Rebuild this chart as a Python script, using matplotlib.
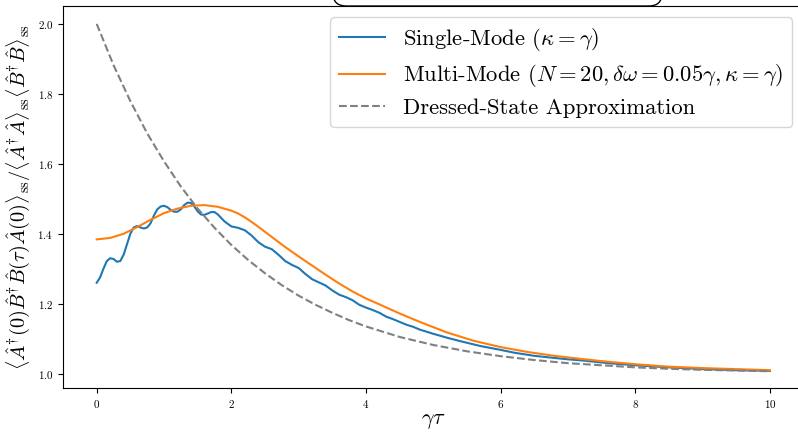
import matplotlib
matplotlib.use('Agg')
import matplotlib.pyplot as plt
from matplotlib.patches import FancyBboxPatch

plt.rcParams.update({
    'font.family': 'serif',
    'font.serif': ['cmr10'],
    'mathtext.fontset': 'cm',
    'axes.unicode_minus': False,
    'axes.formatter.use_mathtext': True,
})

# Single-mode correlation
tau_single = [0.0, 0.05, 0.1, 0.15, 0.2, 0.25, 0.3, 0.35, 0.4, 0.45, 0.5, 0.55, 0.6, 0.65,
              0.7, 0.75, 0.8, 0.85, 0.9, 0.95, 1.0, 1.05, 1.1, 1.15, 1.2, 1.25, 1.3, 1.35,
              1.4, 1.45, 1.5, 1.55, 1.6, 1.65, 1.7, 1.75, 1.8, 1.9, 2.0, 2.1, 2.2, 2.3,
              2.4, 2.5, 2.6, 2.7, 2.8, 2.9, 3.0, 3.1, 3.2, 3.3, 3.4, 3.5, 3.6, 3.7, 3.8,
              3.9, 4.0, 4.1, 4.2, 4.3, 4.4, 4.5, 4.6, 4.7, 4.8, 5.0, 5.2, 5.4, 5.7, 6.0,
              6.2, 6.5, 6.8, 7.0, 7.2, 7.6, 8.0, 8.5, 9.0, 9.5, 10.0]
single = [1.260, 1.275, 1.300, 1.322, 1.330, 1.328, 1.320, 1.322, 1.340, 1.370, 1.400,
          1.418, 1.422, 1.418, 1.415, 1.418, 1.430, 1.452, 1.470, 1.478, 1.480, 1.476,
          1.468, 1.463, 1.463, 1.470, 1.482, 1.489, 1.488, 1.478, 1.464, 1.455, 1.454,
          1.458, 1.462, 1.462, 1.455, 1.435, 1.421, 1.417, 1.410, 1.395, 1.376, 1.363,
          1.356, 1.340, 1.322, 1.311, 1.302, 1.285, 1.270, 1.261, 1.252, 1.238, 1.226,
          1.219, 1.210, 1.197, 1.189, 1.182, 1.174, 1.163, 1.156, 1.148, 1.140, 1.134,
          1.126, 1.114, 1.103, 1.093, 1.079, 1.068, 1.060, 1.051, 1.045, 1.041, 1.038,
          1.030, 1.024, 1.018, 1.013, 1.010, 1.008]

# Multi-mode correlation
tau_multi = [0.0, 0.2, 0.4, 0.6, 0.8, 1.0, 1.2, 1.4, 1.6, 1.8, 2.0, 2.1, 2.2, 2.3, 2.4,
             2.6, 2.8, 3.0, 3.2, 3.4, 3.6, 3.8, 4.0, 4.2, 4.5, 4.8, 5.2, 5.6, 6.0, 6.4,
             6.8, 7.2, 7.6, 8.0, 8.5, 9.0, 9.5, 10.0]
multi = [1.384, 1.388, 1.400, 1.419, 1.440, 1.459, 1.472, 1.480, 1.482, 1.477, 1.466,
         1.458, 1.447, 1.434, 1.420, 1.391, 1.362, 1.335, 1.309, 1.283, 1.258, 1.235,
         1.215, 1.198, 1.172, 1.148, 1.118, 1.094, 1.076, 1.062, 1.051, 1.042, 1.034,
         1.027, 1.020, 1.016, 1.013, 1.010]

# Dressed-state approximation
tau_dressed = [0.0, 0.25, 0.5, 0.75, 1.0, 1.25, 1.5, 1.75, 2.0, 2.25, 2.5, 2.75, 3.0,
               3.25, 3.5, 3.75, 4.0, 4.5, 5.0, 5.5, 6.0, 6.5, 7.0, 7.5, 8.0, 8.5, 9.0,
               9.5, 10.0]
dressed = [2.000, 1.882, 1.779, 1.687, 1.607, 1.535, 1.472, 1.417, 1.368, 1.325, 1.287,
           1.253, 1.223, 1.197, 1.174, 1.153, 1.135, 1.105, 1.082, 1.064, 1.050, 1.039,
           1.030, 1.024, 1.018, 1.014, 1.011, 1.009, 1.007]

fig = plt.figure(figsize=(7.98, 4.32), dpi=100)
ax = fig.add_axes([0.079, 0.101, 0.928, 0.885])

ax.plot(tau_single, single, color='tab:blue', lw=1.5, label=r'Single-Mode ($\kappa=\gamma$)')
ax.plot(tau_multi, multi, color='tab:orange', lw=1.5,
        label=r'Multi-Mode ($N=20, \delta\omega=0.05\gamma, \kappa=\gamma$)')
ax.plot(tau_dressed, dressed, color='gray', ls='--', lw=1.5, label='Dressed-State Approximation')

ax.set_xlim(-0.5, 10.5)
ax.set_ylim(0.958, 2.051)
ax.set_xticks([0, 2, 4, 6, 8, 10])
ax.set_yticks([1.0, 1.2, 1.4, 1.6, 1.8, 2.0])
ax.tick_params(labelsize=8)

ax.set_xlabel(r'$\gamma\tau$', fontsize=16, labelpad=1)
ax.set_ylabel(r'$\langle \hat{A}^{\dagger}(0)\hat{B}^{\dagger}\hat{B}(\tau)\hat{A}(0)\rangle_{\rm ss}'
              r'/\langle \hat{A}^{\dagger}\hat{A}\rangle_{\rm ss}\langle \hat{B}^{\dagger}\hat{B}\rangle_{\rm ss}$',
              fontsize=14.7)

ax.legend(loc='upper right', fontsize=16.3, labelspacing=0.4)

# bottom of a box that sits above the axes (cut off by the figure edge)
fig.patches.append(FancyBboxPatch((333, 426), 329, 40, boxstyle='round,pad=0,rounding_size=13',
                                  transform=None, facecolor='white', edgecolor='black',
                                  lw=1.0, clip_on=False))

fig.savefig('out.png', dpi=100)
